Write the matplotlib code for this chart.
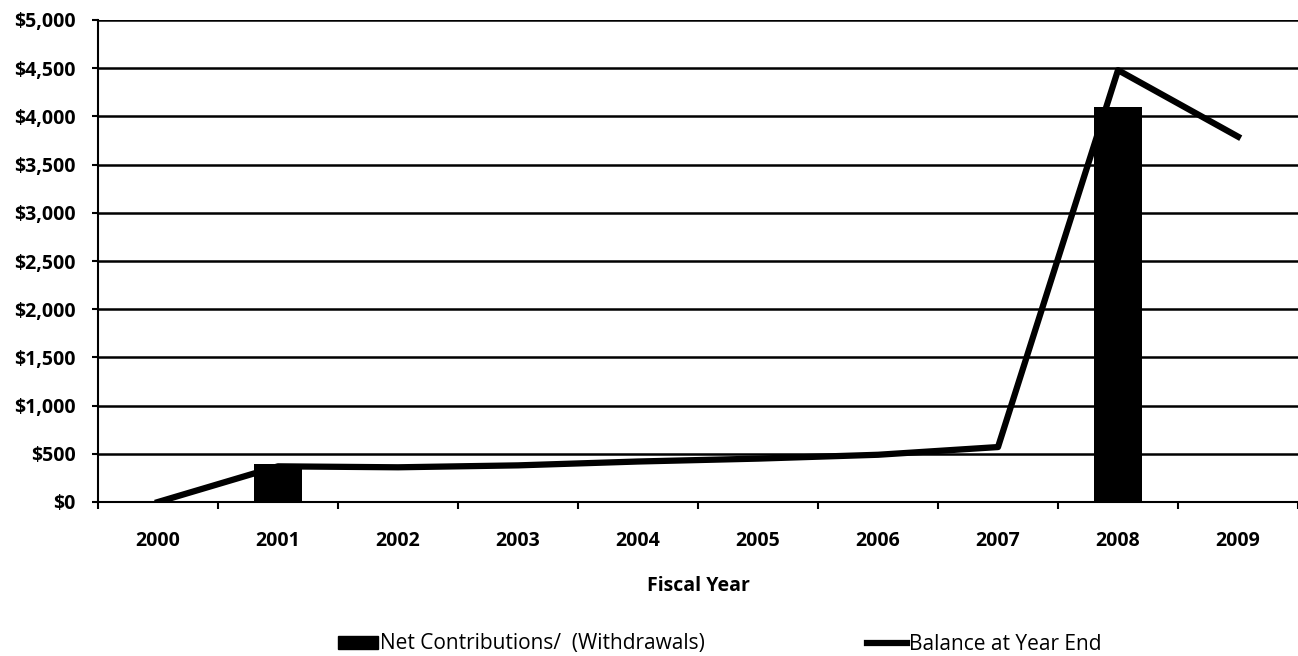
import matplotlib.pyplot as plt
import numpy as np
from matplotlib.ticker import FuncFormatter, MultipleLocator
from matplotlib.lines import Line2D
from matplotlib.patches import Patch

years = ["2000", "2001", "2002", "2003", "2004", "2005", "2006", "2007", "2008", "2009"]
net_contrib = [0, 390, 0, 0, 0, 0, 0, 0, 4100, 0]
balance = [0, 370, 360, 380, 420, 450, 490, 570, 4480, 3790]

plt.rcParams['font.family'] = ['Open Sans', 'DejaVu Sans']

W, H = 1298, 656
fig = plt.figure(figsize=(W / 100, H / 100), dpi=100)
ax = fig.add_axes([98 / W, 1 - 502 / H, 1200 / W, 482 / H])

x = np.arange(len(years))
ax.bar(x, net_contrib, width=0.4, color='black', zorder=3)
ax.plot(x, balance, color='black', linewidth=4.5, zorder=4)

ax.set_xlim(-0.5, len(years) - 0.5)
ax.set_ylim(0, 5000)
ax.yaxis.set_major_locator(MultipleLocator(500))
ax.yaxis.set_major_formatter(FuncFormatter(lambda v, p: f"${v:,.0f}"))
ax.grid(axis='y', color='black', linewidth=1.8, zorder=1)

ax.set_xticks(x)
ax.set_xticklabels(years, fontweight='bold', fontsize=14)
ax.set_xticks(np.arange(-0.5, len(years)), minor=True)
ax.tick_params(axis='x', which='major', length=0, pad=21)
ax.tick_params(axis='x', which='minor', length=5, width=1.5, direction='out')
ax.tick_params(axis='y', length=4, width=1.5, labelsize=14, pad=12)
for lbl in ax.get_yticklabels():
    lbl.set_fontweight('bold')

for side in ['top', 'right']:
    ax.spines[side].set_visible(False)
ax.spines['left'].set_linewidth(1.5)
ax.spines['bottom'].set_linewidth(1.5)

ax.set_xlabel("Fiscal Year", fontweight='bold', fontsize=14)
ax.xaxis.set_label_coords(0.5, (502 - 576) / 482)

handles = [Patch(facecolor='black', edgecolor='black'),
           Line2D([0], [0], color='black', linewidth=4.5)]
fig.legend(handles, ["Net Contributions/  (Withdrawals)", "Balance at Year End"],
           loc='center left', bbox_to_anchor=(338 / W, 1 - 644 / H), ncol=2,
           frameon=False, fontsize=15, columnspacing=7.8, handlelength=1.9,
           handleheight=0.6, handletextpad=0.1, borderpad=0, borderaxespad=0)

fig.savefig("out.png", dpi=100)
